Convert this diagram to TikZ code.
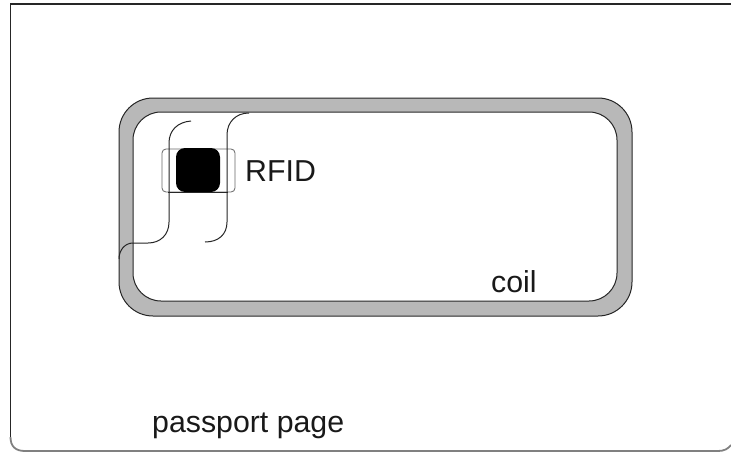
\documentclass[tikz,border=0pt]{standalone}
\usepackage{fontspec}
\setmainfont{Liberation Sans}
\definecolor{coilgray}{HTML}{B8B8B8}
\tikzset{
  wire/.style={draw=black!85,line width=1pt},
  label/.style={inner sep=0pt,anchor=base west,text=black!90,font=\fontsize{30.3}{34}\selectfont},
}
\begin{document}
\begin{tikzpicture}[x=1pt,y=-1pt]
\useasboundingbox (0,0) rectangle (731,455);
% page
\draw[line width=1.6pt,draw=black!85,line join=miter] (731,4) -- (10.5,4) -- (10.5,437);
\draw[line width=1.8pt,draw=black!50] (10.5,437) .. controls (10.5,446) and (15,451) .. (25,451) -- (718,451) .. controls (724,451) and (728,449) .. (731,445);
% coil
\draw[wire,fill=coilgray,rounded corners=34pt] (119,98) rectangle (632,316);
\draw[wire,fill=white,rounded corners=28pt] (133,112) rectangle (617,301);
% chip
\draw[line width=0.8pt,draw=black!60,rounded corners=4pt] (162,149) rectangle (235,192);
\fill[black,rounded corners=9pt] (176,148) rectangle (220,192);
\draw[line width=0.9pt,draw=black!85] (168,192) -- (228,192);
% connectors
\draw[wire] (191,121) .. controls (178,122) and (169,130) .. (169,143) -- (169,222) .. controls (169,235) and (160,243) .. (148,243) -- (133,243);
\draw[wire] (133,243) .. controls (125,243) and (119,250) .. (119,259);
\draw[wire] (249,113) .. controls (236,113) and (227,122) .. (227,135) -- (227,222) .. controls (227,234) and (219,242) .. (205,242);
% labels
\node[label] (rfid) at (245,181) {RFID};
\node[label] (coil) at (491,292) {coil};
\node[label] (page) at (152,432) {passport page};
\end{tikzpicture}
\end{document}
